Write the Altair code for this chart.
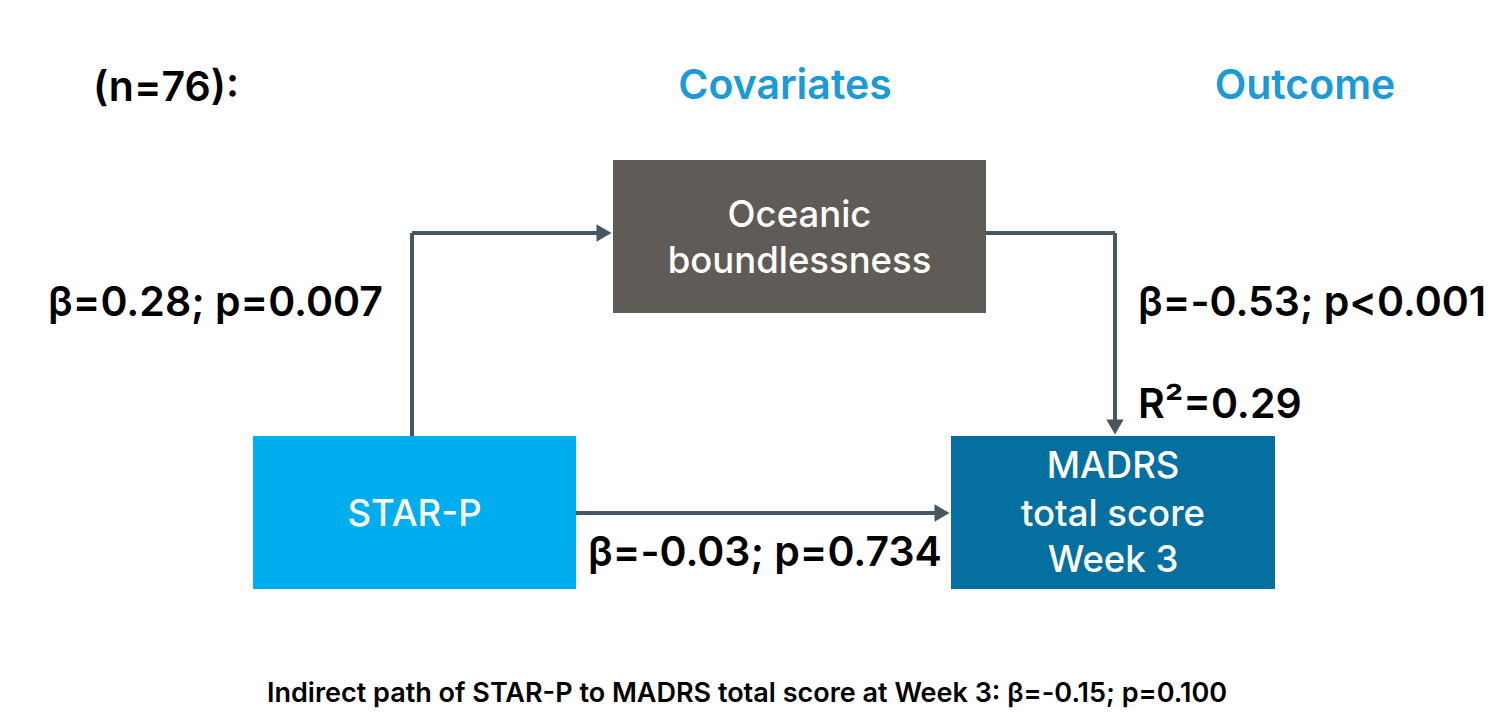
import altair as alt
import pandas as pd

W, H = 1482, 702
FONT = "Inter"

# Boxes
box_names = ["STAR-P", "Oceanic boundlessness", "MADRS total score Week 3"]
box_lines = [["STAR-P"], ["Oceanic", "boundlessness"], ["MADRS", "total score", "Week 3"]]
box_colors = ["#00AEEF", "#5F5B56", "#0570A0"]
box_x1 = [253, 613, 951]
box_x2 = [576, 986, 1275]
box_y1 = [436, 160, 436]
box_y2 = [589, 313, 589]
box_text_y = [[515], [216, 262], [467, 515, 561]]

# Paths (segments)
seg_x1 = [412, 412, 986, 1115, 576]
seg_y1 = [436, 233, 233, 233, 513]
seg_x2 = [412, 600, 1115, 1115, 938]
seg_y2 = [233, 233, 233, 422, 513]
arrow_x = [604, 1115, 942]
arrow_y = [233, 427, 513]
arrow_shape = ["triangle-right", "triangle-down", "triangle-right"]

# Stats labels
stat_text = ["β=0.28; p=0.007", "β=-0.53; p<0.001", "R²=0.29", "β=-0.03; p=0.734", "(n=76):"]
stat_x = [48, 1138, 1138, 588, 93]
stat_y = [304, 304, 406, 554, 89]

head_text = ["Covariates", "Outcome"]
head_x = [785, 1305]
head_y = [87, 87]

foot_text = ["Indirect path of STAR-P to MADRS total score at Week 3: β=-0.15; p=0.100"]
foot_x = [747]
foot_y = [694]

LINE = "#48575F"

xs = alt.Scale(domain=[8, 8 + W], nice=False, zero=False)
ys = alt.Scale(domain=[8 + H, 8], nice=False, zero=False)

boxes = pd.DataFrame({"name": box_names, "color": box_colors, "x1": box_x1, "x2": box_x2,
                      "y1": box_y1, "y2": box_y2})
rect = alt.Chart(boxes).mark_rect().encode(
    x=alt.X("x1:Q", scale=xs, axis=None), x2="x2",
    y=alt.Y("y1:Q", scale=ys, axis=None), y2="y2",
    color=alt.Color("color:N", scale=None),
)

rows = []
for i, lines in enumerate(box_lines):
    cx = (box_x1[i] + box_x2[i]) / 2
    for t, yy in zip(lines, box_text_y[i]):
        rows.append({"t": t, "x": cx, "y": yy})
btxt = alt.Chart(pd.DataFrame(rows)).mark_text(
    font=FONT, fontSize=36.5, fontWeight=500, color="white", align="center", baseline="middle"
).encode(x=alt.X("x:Q", scale=xs, axis=None), y=alt.Y("y:Q", scale=ys, axis=None), text="t:N")

segs = pd.DataFrame({"x1": seg_x1, "y1": seg_y1, "x2": seg_x2, "y2": seg_y2})
rules = alt.Chart(segs).mark_rule(color=LINE, strokeWidth=4).encode(
    x=alt.X("x1:Q", scale=xs, axis=None), x2="x2",
    y=alt.Y("y1:Q", scale=ys, axis=None), y2="y2",
)

arrows = pd.DataFrame({"x": arrow_x, "y": arrow_y, "shape": arrow_shape})
heads = alt.Chart(arrows).mark_point(filled=True, color=LINE, opacity=1, size=300).encode(
    x=alt.X("x:Q", scale=xs, axis=None), y=alt.Y("y:Q", scale=ys, axis=None),
    shape=alt.Shape("shape:N", scale=None),
)

stats = pd.DataFrame({"t": stat_text, "x": stat_x, "y": stat_y})
stxt = alt.Chart(stats).mark_text(
    font=FONT, fontSize=41, fontWeight=600, color="black", align="left", baseline="middle"
).encode(x=alt.X("x:Q", scale=xs, axis=None), y=alt.Y("y:Q", scale=ys, axis=None), text="t:N")

heads_df = pd.DataFrame({"t": head_text, "x": head_x, "y": head_y})
htxt = alt.Chart(heads_df).mark_text(
    font=FONT, fontSize=41, fontWeight=600, color="#1A9AD6", align="center", baseline="middle"
).encode(x=alt.X("x:Q", scale=xs, axis=None), y=alt.Y("y:Q", scale=ys, axis=None), text="t:N")

foot = pd.DataFrame({"t": foot_text, "x": foot_x, "y": foot_y})
ftxt = alt.Chart(foot).mark_text(
    font=FONT, fontSize=27, fontWeight=600, color="black", align="center", baseline="middle"
).encode(x=alt.X("x:Q", scale=xs, axis=None), y=alt.Y("y:Q", scale=ys, axis=None), text="t:N")

chart = alt.layer(rules, heads, rect, btxt, stxt, htxt, ftxt).properties(
    width=W, height=H, padding=0, background="white"
).configure_view(stroke=None)

chart.save("out.html", embed_options={"renderer": "svg", "actions": False})
